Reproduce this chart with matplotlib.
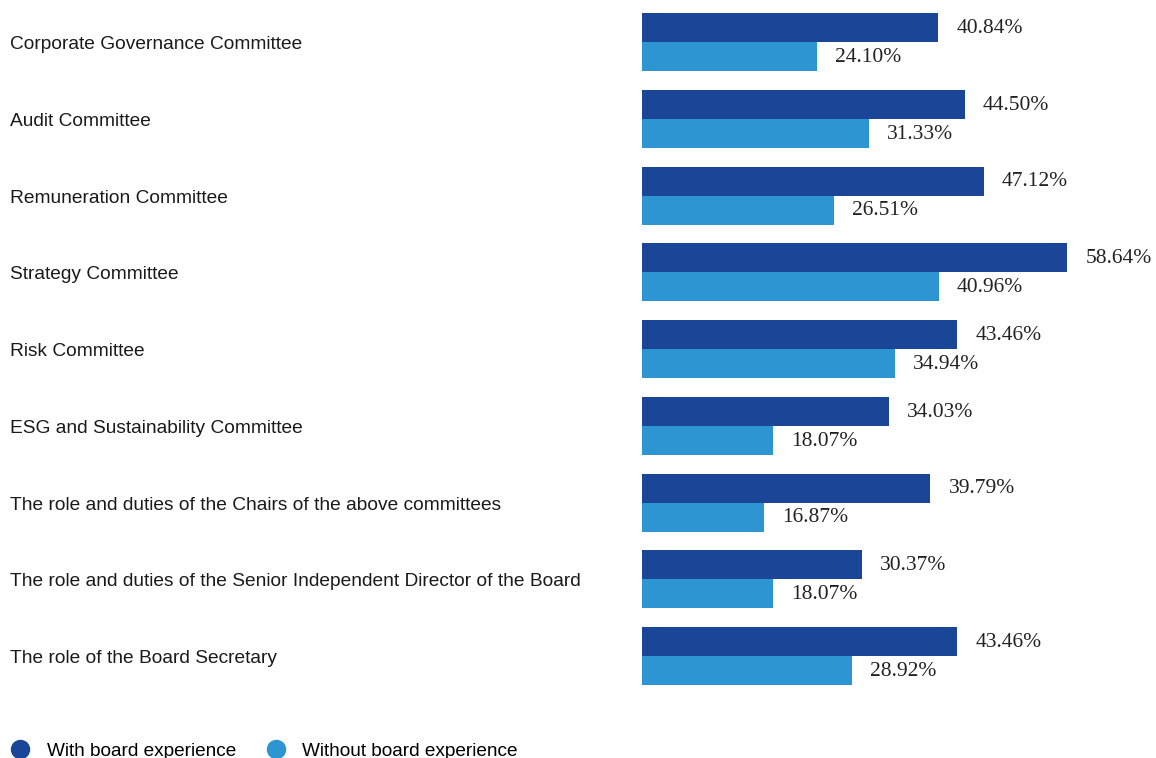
import matplotlib
matplotlib.use("Agg")
import matplotlib.pyplot as plt
import matplotlib.transforms as mtransforms
from matplotlib.lines import Line2D
import numpy as np

categories = [
    "Corporate Governance Committee",
    "Audit Committee",
    "Remuneration Committee",
    "Strategy Committee",
    "Risk Committee",
    "ESG and Sustainability Committee",
    "The role and duties of the Chairs of the above committees",
    "The role and duties of the Senior Independent Director of the Board",
    "The role of the Board Secretary",
]
with_experience = [40.84, 44.50, 47.12, 58.64, 43.46, 34.03, 39.79, 30.37, 43.46]
without_experience = [24.10, 31.33, 26.51, 40.96, 34.94, 18.07, 16.87, 18.07, 28.92]
series_names = ["With board experience", "Without board experience"]

DARK = "#1b4597"
LIGHT = "#2c95d2"
W, H = 1156, 758

fig = plt.figure(figsize=(W / 100, H / 100), dpi=100)
ax = fig.add_axes([642 / W, 58 / H, 507.5 / W, 700 / H])

pitch = 76.75
top_px = 42
n = len(categories)
y = np.arange(n)
bar_h = 29 / pitch

ax.barh(y - bar_h / 2, with_experience, height=bar_h, color=DARK, linewidth=0)
ax.barh(y + bar_h / 2, without_experience, height=bar_h, color=LIGHT, linewidth=0)

ax.set_xlim(0, 70)
ax.set_ylim((700 - top_px) / pitch, -top_px / pitch)
ax.axis("off")

value_font = dict(family="Liberation Serif", fontsize=15.5, color="#222222")
for i, (a, b) in enumerate(zip(with_experience, without_experience)):
    ax.annotate(f"{a:.2f}%", (a, i - bar_h / 2 + 0.01), xytext=(13, 0),
                textcoords="offset points", va="center", ha="left", **value_font)
    ax.annotate(f"{b:.2f}%", (b, i + bar_h / 2 + 0.01), xytext=(13, 0),
                textcoords="offset points", va="center", ha="left", **value_font)

label_tr = mtransforms.blended_transform_factory(fig.transFigure, ax.transData)
for i, name in enumerate(categories):
    ax.text(10 / W, i + 0.035, name, transform=label_tr, ha="left", va="center",
            family="Liberation Sans", fontsize=13.8, color="#1a1a1a")

handles = [
    Line2D([], [], marker="o", linestyle="none", markersize=13,
           markerfacecolor=DARK, markeredgecolor=DARK),
    Line2D([], [], marker="o", linestyle="none", markersize=13,
           markerfacecolor=LIGHT, markeredgecolor=LIGHT),
]
fig.legend(handles, series_names, loc="center left",
           bbox_to_anchor=(10.5 / W, 1 - 751 / H), ncol=2, frameon=False,
           prop=dict(family="Liberation Sans", size=13.7),
           handletextpad=0.9, columnspacing=1.6, handlelength=1.0,
           borderaxespad=0, borderpad=0)

fig.savefig("out.png", dpi=100, facecolor="white")
